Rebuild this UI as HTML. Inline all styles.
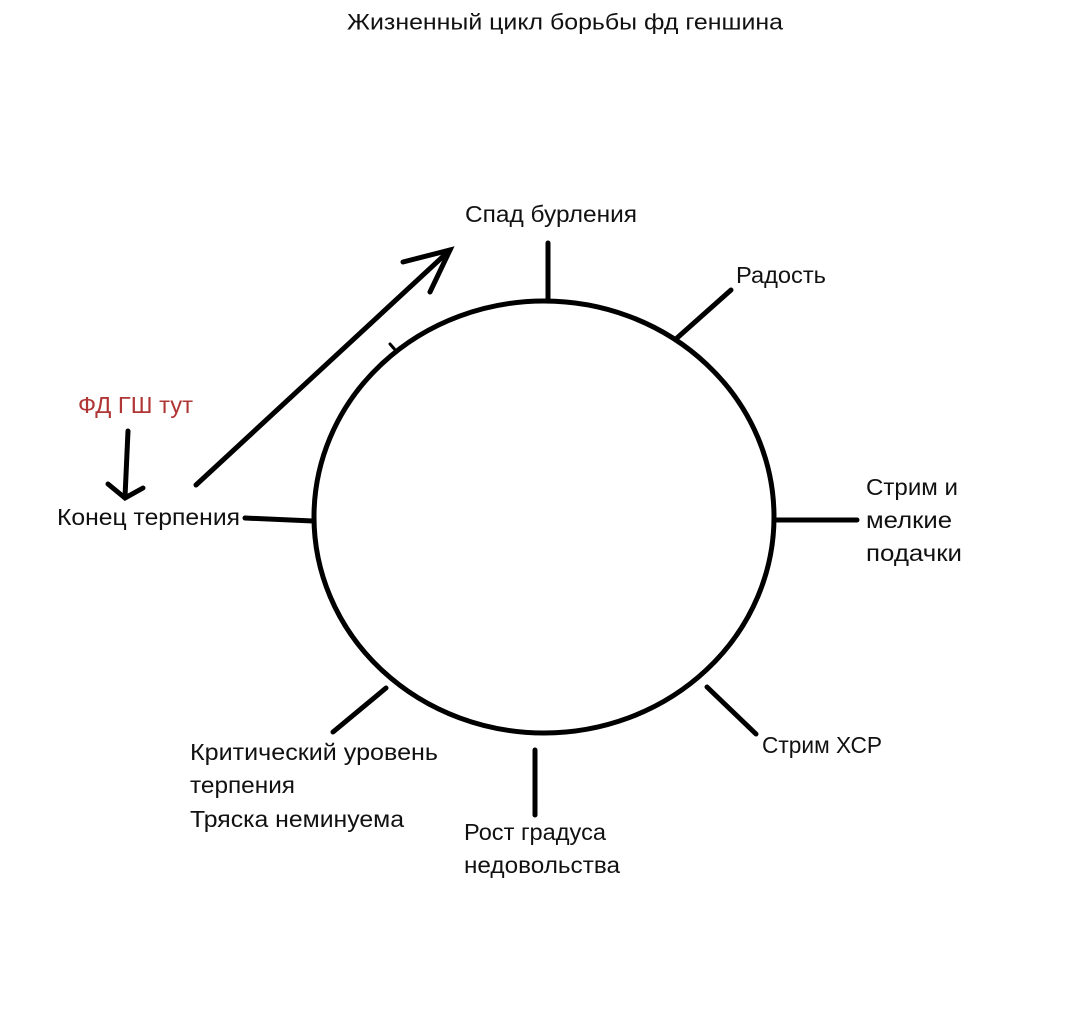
<!DOCTYPE html>
<html><head><meta charset="utf-8"><style>
html,body{margin:0;padding:0;background:#fff;}
svg{display:block}
text{font-family:"Liberation Sans","DejaVu Sans",sans-serif;font-size:23px;fill:#111;dominant-baseline:central}
</style></head><body>
<svg width="1079" height="1011" viewBox="0 0 1079 1011">
<text x="347" y="22" textLength="436" lengthAdjust="spacingAndGlyphs" style="font-size:22px">Жизненный цикл борьбы фд геншина</text>
<g stroke="#000" stroke-width="5" fill="none" stroke-linecap="round">
<ellipse cx="544" cy="517" rx="230" ry="216"/>
<line x1="548" y1="243" x2="548" y2="300"/>
<line x1="731" y1="290" x2="677" y2="338"/>
<line x1="777" y1="520" x2="857" y2="520"/>
<line x1="707" y1="687" x2="756" y2="734"/>
<line x1="535" y1="750" x2="535" y2="815"/>
<line x1="386" y1="688" x2="333" y2="732"/>
<line x1="245" y1="518" x2="313" y2="521"/>
<path d="M196 485 Q320 370 450 250"/>
<path d="M403 262 L450 250 L430 292"/>
<line x1="390" y1="344" x2="397" y2="352" stroke-width="3"/>
<line x1="128" y1="431" x2="125" y2="497"/>
<path d="M108 484 L125 498 L143 488"/>
</g>
<text x="465" y="214" textLength="172" lengthAdjust="spacingAndGlyphs">Спад бурления</text>
<text x="736" y="275" textLength="90" lengthAdjust="spacingAndGlyphs">Радость</text>
<text x="866" y="487" textLength="92" lengthAdjust="spacingAndGlyphs">Стрим и</text>
<text x="866" y="520" textLength="86" lengthAdjust="spacingAndGlyphs">мелкие</text>
<text x="866" y="553" textLength="96" lengthAdjust="spacingAndGlyphs">подачки</text>
<text x="762" y="745" textLength="120" lengthAdjust="spacingAndGlyphs">Стрим ХСР</text>
<text x="464" y="832" textLength="142" lengthAdjust="spacingAndGlyphs">Рост градуса</text>
<text x="464" y="865" textLength="156" lengthAdjust="spacingAndGlyphs">недовольства</text>
<text x="190" y="752" textLength="248" lengthAdjust="spacingAndGlyphs">Критический уровень</text>
<text x="190" y="785" textLength="105" lengthAdjust="spacingAndGlyphs">терпения</text>
<text x="190" y="819" textLength="214" lengthAdjust="spacingAndGlyphs">Тряска неминуема</text>
<text x="57" y="517" textLength="183" lengthAdjust="spacingAndGlyphs">Конец терпения</text>
<text x="78" y="405" textLength="115" lengthAdjust="spacingAndGlyphs" style="fill:#b03535">ФД ГШ тут</text>
</svg>
</body></html>
